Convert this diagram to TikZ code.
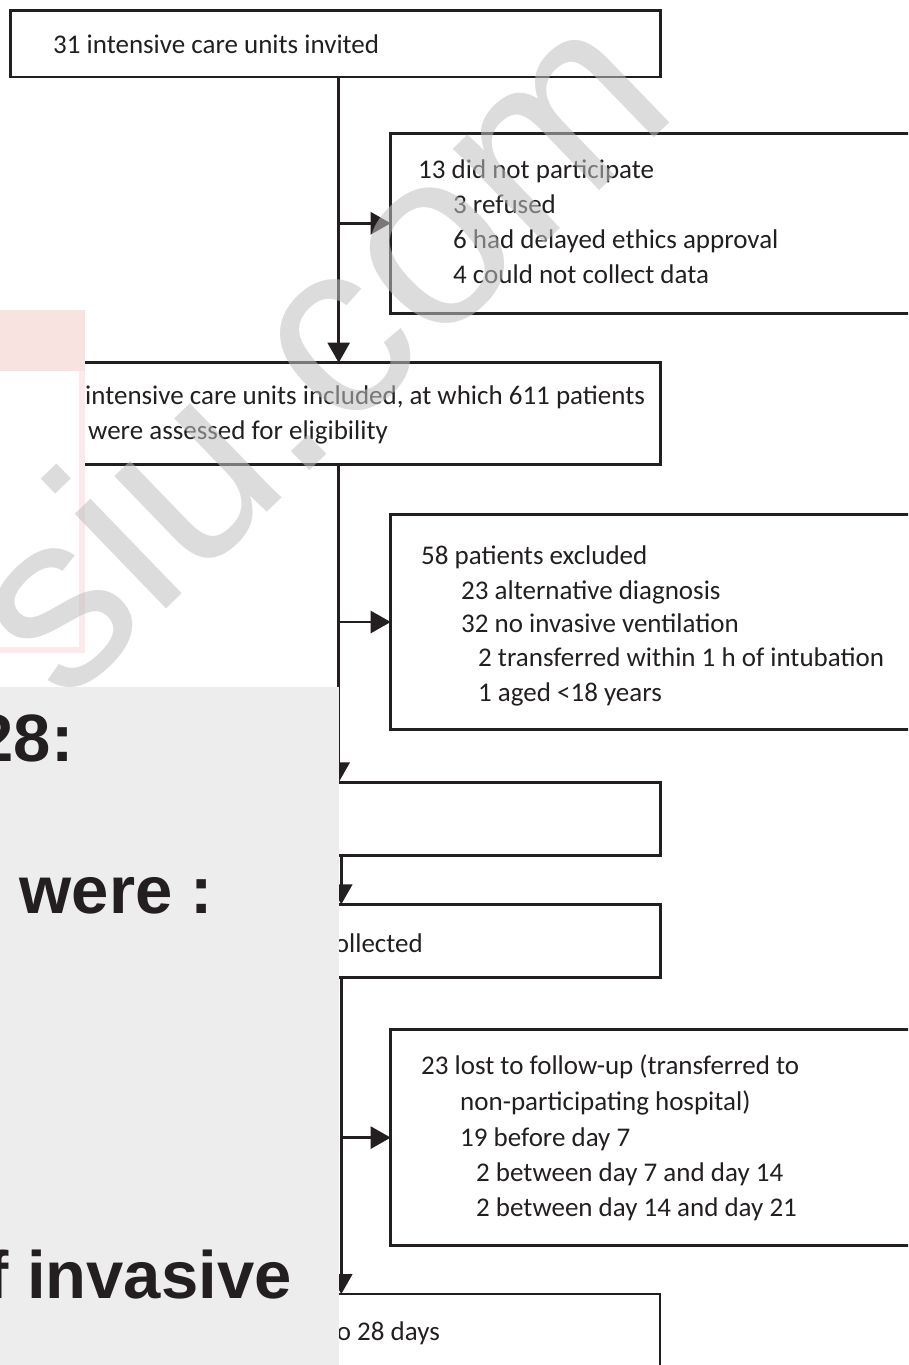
\documentclass[tikz,border=0pt]{standalone}
\usepackage{fontspec}
\setmainfont{Carlito}
\newfontfamily\panelfont{Liberation Sans}
\newfontfamily\wmfont{Liberation Sans}
\usetikzlibrary{arrows.meta}
\definecolor{ink}{RGB}{35,31,32}
\definecolor{panelgrey}{RGB}{237,237,237}
\definecolor{pinkfill}{RGB}{249,227,225}
\definecolor{pinkline}{RGB}{251,234,233}
\definecolor{wmgrey}{RGB}{192,192,192}
\begin{document}
\begin{tikzpicture}[x=1pt,y=-1pt,
  box/.style={draw=ink, line width=2.6pt, rectangle, inner sep=0pt, outer sep=0pt},
  txt/.style={anchor=base west, inner sep=0pt, text=ink, font=\fontsize{27}{32}\selectfont},
  txte/.style={txt, anchor=base east},
  conn/.style={draw=ink, line width=2.6pt},
  arr/.style={conn, -{Triangle[length=20pt,width=22pt]}},
  bigtxt/.style={anchor=base west, inner sep=0pt, text=ink, font=\panelfont\bfseries\fontsize{67}{80}\selectfont},
  wmark/.style={rotate=44, anchor=base west, inner sep=0pt, text=wmgrey, text opacity=0.55, font=\wmfont\fontsize{249}{290}\selectfont}
]
\useasboundingbox (0,0) rectangle (908,1365);
\clip (0,0) rectangle (908,1365);

% main boxes
\node[box, minimum width=650pt, minimum height=66.5pt] (b1) at (335.5,43.75) {};
\node[box, minimum width=650pt, minimum height=101.8pt] (b2) at (335.5,413.6) {};
\node[box, minimum width=650.2pt, minimum height=72.9pt] (b4) at (335.6,818.75) {};
\node[box, minimum width=650pt, minimum height=73pt] (b5) at (335.5,940.8) {};
\node[box, minimum width=649.5pt, minimum height=106pt] (b7) at (335.25,1347) {};
% side boxes
\node[box, minimum width=539.3pt, minimum height=179.9pt] (s1) at (660.35,223.25) {};
\node[box, minimum width=539.3pt, minimum height=215pt] (s2) at (660.35,622) {};
\node[box, minimum width=539.3pt, minimum height=215.8pt] (s3) at (660.35,1137.6) {};

% connector columns
\coordinate (c1) at (338.7,0);
\coordinate (c2) at (341.3,0);

\draw[arr] (b1.south -| c1) -- (b2.north -| c1);
\draw[arr] (s1.west -| c1) -- (s1.west);
\draw[arr] (b2.south -| c1) -- (b4.north -| c1);
\draw[arr] (s2.west -| c1) -- (s2.west);
\draw[arr] (b4.south -| c2) -- (b5.north -| c2);
\draw[arr] (b5.south -| c2) -- (b7.north -| c2);
\draw[arr] (s3.west -| c2) -- (s3.west);

% texts
\node[txt] (t1) at (53,53) {31 intensive care units invited};
\node[txt] (t1a) at (418,178) {13 did not participate};
\node[txt] (t1b) at (453,213.5) {3 refused};
\node[txt] (t1c) at (453,248) {6 had delayed ethics approval};
\node[txt] (t1d) at (453,283) {4 could not collect data};
\node[txt] (t2) at (85,404) {intensive care units included, at which 611 patients};
\node[txt] (t2b) at (88,439) {were assessed for eligibility};
\node[txt] (t3a) at (421,564) {58 patients excluded};
\node[txt] (t3b) at (461,599) {23 alternative diagnosis};
\node[txt] (t3c) at (461,632) {32 no invasive ventilation};
\node[txt] (t3d) at (478,666) {2 transferred within 1 h of intubation};
\node[txt] (t3e) at (478,701) {1 aged <18 years};
\node[txte] (t5) at (423,952) {ollected};
\node[txt] (t6a) at (421,1074.5) {23 lost to follow-up (transferred to};
\node[txt] (t6b) at (460,1110) {non-participating hospital)};
\node[txt] (t6c) at (460,1146) {19 before day 7};
\node[txt] (t6d) at (476,1181) {2 between day 7 and day 14};
\node[txt] (t6e) at (476,1216) {2 between day 14 and day 21};
\node[txte] (t7) at (440,1340) {o 28 days};

% pink overlay box
\fill[white] (-10,310) rectangle (85,653);
\fill[pinkfill] (-10,310) rectangle (85,371);
\draw[pinkline, line width=6pt] (-10,650) -- (82,650) -- (82,371);

% watermark
\node[wmark] (wm) at (5,765) {rsiu.com};

% grey overlay panel
\fill[panelgrey] (-5,687) rectangle (338.5,1370);
\node[bigtxt] (p1) at (-23.5,761) {28:};
\node[bigtxt] (p2) at (19.5,913) {were :};
\node[bigtxt] (p3) at (-14,1298) {f invasive};
\end{tikzpicture}
\end{document}
